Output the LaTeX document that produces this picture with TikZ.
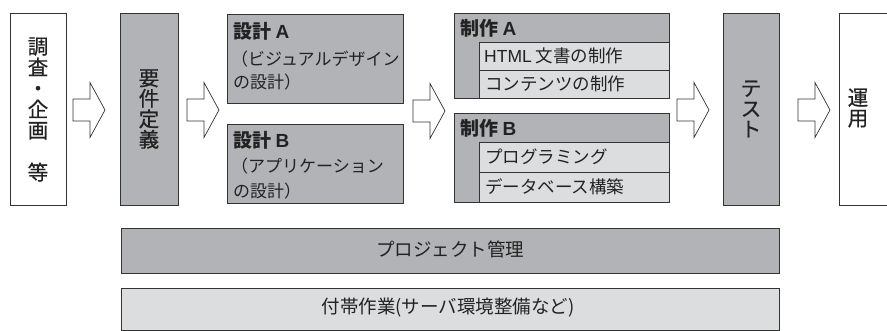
\documentclass[tikz,border=0pt]{standalone}
\usepackage{fontspec}
\setmainfont{Noto Sans CJK JP}
\newfontfamily\jpbold{Noto Sans CJK JP}[FakeBold=0.6]
\newfontfamily\latinf{Liberation Sans}
\definecolor{darkg}{HTML}{B2B3B6}
\definecolor{lightg}{HTML}{DCDDDE}
\definecolor{linec}{HTML}{333333}
\definecolor{textc}{HTML}{222222}
\tikzset{
  box/.style={draw=linec, line width=0.8pt, inner sep=0pt, anchor=north west, text=textc},
  darkbox/.style={box, fill=darkg},
  lightbox/.style={box, fill=lightg},
  whitebox/.style={box, fill=white},
  vtext/.style={align=center, inner sep=0pt, text=textc, font=\jpbold\fontsize{20.5}{20.5}\selectfont},
  title/.style={anchor=west, inner sep=0pt, text=textc, font=\fontsize{19}{22}\selectfont\bfseries},
  sub/.style={anchor=west, inner sep=0pt, text=textc, font=\fontsize{17}{20}\selectfont},
  btext/.style={inner sep=0pt, text=textc, font=\fontsize{18.5}{21}\selectfont},
  pics/blockarrow/.style={code={
    \draw[linec, line width=0.7pt, fill=white, line join=miter]
      (0,-11) -- (17,-11) -- (17,-27.5) -- (32,0) -- (17,27.5) -- (17,11) -- (0,11) -- cycle;
  }}
}
\begin{document}
\begin{tikzpicture}[x=1pt,y=-1pt]
\useasboundingbox (0,0) rectangle (887,330);
% main boxes
\node[whitebox, minimum width=56pt, minimum height=192pt] (survey) at (10,13) {};
\node[vtext, font=\jpbold\fontsize{20.5}{21}\selectfont] (surveyt) at (38,109.5) {調\\査\\・\\企\\画\\[21pt]等};
\node[darkbox, minimum width=58pt, minimum height=192pt] (req) at (120,13) {};
\node[vtext] (reqt) at (149,109) {要\\件\\定\\義};
% design boxes
\node[darkbox, minimum width=176pt, minimum height=89pt] (desA) at (227,14) {};
\node[title] (desAt) at (233,31) {設計 {\latinf A}};
\node[sub] (desA1) at (231,59) {（ビジュアルデザイン};
\node[sub] (desA2) at (233,82) {の設計）};
\node[darkbox, minimum width=176pt, minimum height=79pt] (desB) at (227,124) {};
\node[title] (desBt) at (233,140) {設計 {\latinf B}};
\node[sub] (desB1) at (231,166) {（アプリケーション};
\node[sub] (desB2) at (233,191) {の設計）};
% production A
\node[darkbox, minimum width=215pt, minimum height=85pt] (prodA) at (454,13) {};
\node[title] (prodAt) at (460,28) {制作 {\latinf A}};
\node[lightbox, minimum width=190pt, minimum height=28pt] (prodA1) at (479,42) {};
\node[lightbox, minimum width=190pt, minimum height=28pt] (prodA2) at (479,70) {};
\node[sub, font=\fontsize{17.5}{20}\selectfont] (prodA1t) at (484,56) {{\latinf HTML} 文書の制作};
\node[sub, font=\fontsize{17.5}{20}\selectfont] (prodA2t) at (485,84) {コンテンツの制作};
% production B
\node[darkbox, minimum width=215pt, minimum height=89pt] (prodB) at (454,113) {};
\node[title] (prodBt) at (460,128) {制作 {\latinf B}};
\node[lightbox, minimum width=190pt, minimum height=30pt] (prodB1) at (479,142) {};
\node[lightbox, minimum width=190pt, minimum height=30pt] (prodB2) at (479,172) {};
\node[sub, font=\fontsize{17.5}{20}\selectfont] (prodB1t) at (485,157) {プログラミング};
\node[sub, font=\fontsize{17.5}{20}\selectfont] (prodB2t) at (485,187) {データベース構築};
% test
\node[darkbox, minimum width=56pt, minimum height=192pt] (test) at (723,13) {};
\node[vtext] (testt) at (751,109) {テ\\ス\\ト};
% operation
\node[whitebox, minimum width=70pt, minimum height=192pt] (ops) at (839,13) {};
\node[vtext] (opst) at (858,108) {運\\用};
% arrows
\pic at (73,110) {blockarrow};
\pic at (187,110) {blockarrow};
\pic at (413,111) {blockarrow};
\pic at (677,110) {blockarrow};
\pic at (798,110) {blockarrow};
% bottom bars
\node[darkbox, minimum width=658pt, minimum height=45pt] (pm) at (121,228) {};
\node[btext] (pmt) at (450,249) {プロジェクト管理};
\node[lightbox, minimum width=658pt, minimum height=42pt] (aux) at (121,288) {};
\node[btext] (auxt) at (448,308) {付帯作業(サーバ環境整備など)};
\end{tikzpicture}
\end{document}
